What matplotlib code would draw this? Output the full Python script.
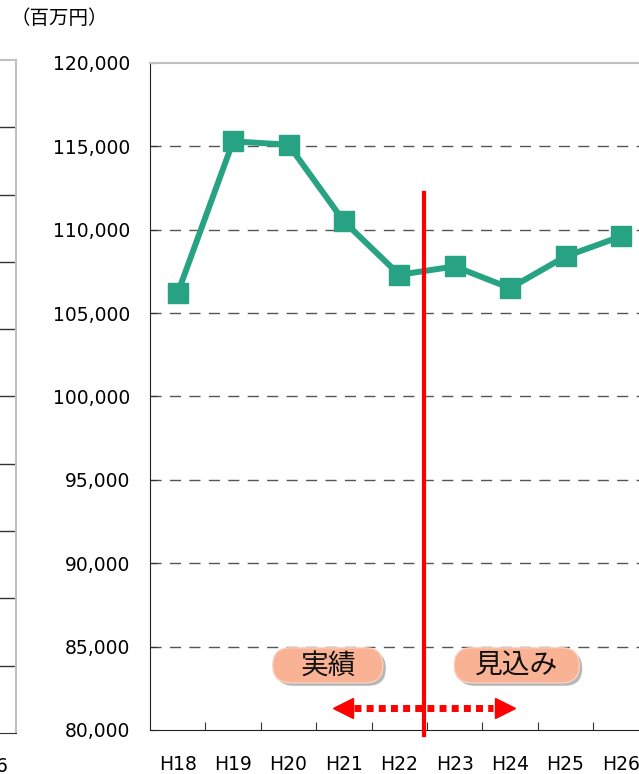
import matplotlib
matplotlib.use('Agg')
import matplotlib.pyplot as plt
import matplotlib.transforms as mtransforms
from matplotlib.patches import FancyBboxPatch

plt.rcParams['font.family'] = ['Noto Sans CJK JP', 'DejaVu Sans']

# データ
years = ['H18', 'H19', 'H20', 'H21', 'H22', 'H23', 'H24', 'H25', 'H26']
values = [106200, 115300, 115100, 110500, 107300, 107800, 106500, 108400, 109600]
y_ticks = [80000, 85000, 90000, 95000, 100000, 105000, 110000, 115000, 120000]

green = '#27a384'
num_font = ['DejaVu Sans']

fig = plt.figure(figsize=(6.39, 7.74), dpi=100)

# 左側に切れている隣のグラフ
ax0 = fig.add_axes([-0.3, 41 / 774, 0.3 + 16 / 639, 673 / 774])
ax0.set_xlim(0, 1)
ax0.set_ylim(0, 10)
for k in range(1, 10):
    ax0.axhline(k, color='#333333', lw=1.0)
for s in ['top', 'right']:
    ax0.spines[s].set_color('#c0c0c0')
    ax0.spines[s].set_linewidth(1.5)
ax0.spines['bottom'].set_color('#333333')
ax0.spines['left'].set_visible(False)
ax0.set_xticks([])
ax0.set_yticks([])
fig.text(8 / 639, 1 - 766 / 774, 'H26', ha='right', va='center', fontsize=13.5,
         family=num_font)

# メインのグラフ
ax = fig.add_axes([150 / 639, 44 / 774, 498.6 / 639, 667 / 774])
x = list(range(len(years)))
ax.plot(x, values, color=green, lw=4.3, marker='s', markersize=14,
        markerfacecolor=green, markeredgecolor=green, zorder=3)

ax.set_xlim(-0.5, len(years) - 0.5)
ax.set_ylim(80000, 120000)
ax.set_yticks(y_ticks)
ax.set_yticklabels([f'{v:,}' for v in y_ticks], fontsize=13.5, family=num_font)
ax.set_xticks([i + 0.5 for i in range(len(years) - 1)])
ax.set_xticklabels([])
ax.set_xticks(x, minor=True)
ax.set_xticklabels(years, minor=True, fontsize=13.5, family=num_font)
ax.tick_params(axis='x', which='major', direction='in', length=6, color='#333333')
ax.tick_params(axis='x', which='minor', length=0, pad=18)
ax.tick_params(axis='y', direction='in', length=5, pad=14, color='#333333')

for v in y_ticks[1:-1]:
    ax.axhline(v, color='#555555', lw=1.0, ls=(0, (8, 6)), zorder=1)

ax.spines['top'].set_color('#c0c0c0')
ax.spines['top'].set_linewidth(1.5)
ax.spines['right'].set_visible(False)
ax.spines['left'].set_color('#222222')
ax.spines['bottom'].set_color('#222222')

# 実績と見込みの境界
ax.plot([4.45, 4.45], [79700, 112200], color='#ff0000', lw=3, clip_on=False, zorder=4)

# 両矢印（点線）
ax.plot([3.19, 5.69], [81300, 81300], color='#ff0000', lw=5, ls=(0, (1, 0.75)),
        solid_capstyle='butt', dash_capstyle='butt', zorder=4)
ax.plot([2.98], [81300], marker='<', color='#ff0000', markersize=14, zorder=4)
ax.plot([5.91], [81300], marker='>', color='#ff0000', markersize=14, zorder=4)

# ラベル（角丸の吹き出し、ピクセル単位で描く）
def pill(xc, yc, text, w, h=35):
    cx, cy = ax.transData.transform((xc, yc))
    ident = mtransforms.IdentityTransform()
    for dx, dy, fc, ec, z in [(3, -3, '#b8b8b8', 'none', 5), (0, 0, '#f9b294', '#fbd0bd', 6)]:
        p = FancyBboxPatch((cx - w / 2 + dx, cy - h / 2 + dy), w, h,
                           boxstyle=f'round,pad=0,rounding_size={h / 2}',
                           facecolor=fc, edgecolor=ec, lw=1, transform=ident,
                           zorder=z, clip_on=False)
        fig.add_artist(p)
    fig.text(cx, cy, text, transform=ident, ha='center', va='center',
             fontsize=20, color='#111111', zorder=7)

pill(2.71, 83880, '実績', 110)
pill(6.12, 83880, '見込み', 125)

fig.text(10 / 639, 1 - 18 / 774, '（百万円）', ha='left', va='center', fontsize=14)

fig.savefig('out.png', dpi=100)
